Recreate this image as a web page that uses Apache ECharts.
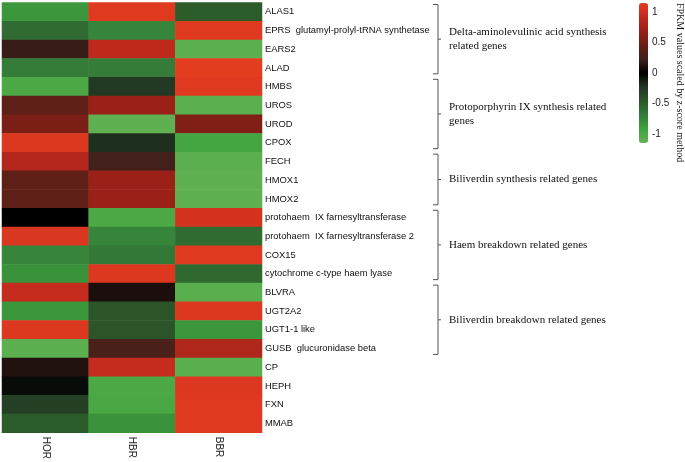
<!DOCTYPE html>
<html><head><meta charset="utf-8">
<script src="https://cdn.jsdelivr.net/npm/echarts@6/dist/echarts.min.js"></script>
<style>html,body{margin:0;padding:0;background:#fff}#c{width:685px;height:462px}</style>
</head><body><div id="c"></div>
<script>
const samples = ['HOR', 'HBR', 'BBR'];
const genes = ['ALAS1', 'EPRS  glutamyl-prolyl-tRNA synthetase', 'EARS2', 'ALAD', 'HMBS', 'UROS', 'UROD', 'CPOX',
  'FECH', 'HMOX1', 'HMOX2', 'protohaem  IX farnesyltransferase', 'protohaem  IX farnesyltransferase 2', 'COX15',
  'cytochrome c-type haem lyase', 'BLVRA', 'UGT2A2', 'UGT1-1 like', 'GUSB  glucuronidase beta', 'CP', 'HEPH', 'FXN', 'MMAB'];
const hor = [-0.85, -0.6, 0.2, -0.7, -1.0, 0.4, 0.55, 1.1, 0.85, 0.4, 0.4, 0.0, 1.08, -0.75, -0.82, 0.95, -0.85, 1.1, -1.1, 0.12, -0.05, -0.3, -0.5];
const hbr = [1.12, -0.75, 0.9, -0.7, -0.25, 0.7, -1.12, -0.2, 0.25, 0.7, 0.7, -1.0, -0.75, -0.68, 1.1, 0.1, -0.45, -0.45, 0.28, 0.95, -1.0, -0.98, -0.82];
const bbr = [-0.5, 1.12, -1.1, 1.15, 1.12, -1.1, 0.57, -0.95, -1.1, -1.12, -1.12, 1.05, -0.6, 1.12, -0.58, -1.08, 1.1, -0.85, 0.82, -1.08, 1.1, 1.12, 1.12];
const groupNames = ['Delta-aminolevulinic acid synthesis\nrelated genes', 'Protoporphyrin IX synthesis related\ngenes',
  'Biliverdin synthesis related genes', 'Haem breakdown related genes', 'Biliverdin breakdown related genes'];
const groupStart = [0, 4, 8, 11, 15];
const groupEnd = [3, 7, 10, 14, 18];
const colorTicks = [-1, -0.5, 0, 0.5, 1];
const zMin = -1.15, zMax = 1.15;
const legendTitle = 'FPKM values scaled by z-score method';

const data = [];
genes.forEach((g, i) => { [hor, hbr, bbr].forEach((arr, j) => data.push([j, i, arr[i]])); });

const chart = echarts.init(document.getElementById('c'));
chart.setOption({
  animation: false,
  backgroundColor: '#fff',
  grid: [
    { left: 2, right: 423, top: 2.5, bottom: 25 },
    { left: 639, top: 3, width: 9, height: 140 }
  ],
  xAxis: [
    { type: 'category', data: samples, gridIndex: 0, axisLine: { show: false }, axisTick: { show: false },
      axisLabel: { rotate: -90, margin: 4, fontSize: 10, color: '#222', fontFamily: 'Liberation Sans' } },
    { type: 'value', gridIndex: 1, show: false, min: 0, max: 1 }
  ],
  yAxis: [
    { type: 'category', data: genes, inverse: true, position: 'right', gridIndex: 0,
      axisLine: { show: false }, axisTick: { show: false }, splitLine: { show: false },
      axisLabel: { margin: 3, fontSize: 9.4, color: '#111', fontFamily: 'Liberation Sans' } },
    { type: 'value', gridIndex: 1, min: zMin, max: zMax, position: 'right',
      axisLine: { show: false }, axisTick: { show: false }, splitLine: { show: false },
      axisLabel: { customValues: colorTicks, margin: 4, fontSize: 10, color: '#222', fontFamily: 'Liberation Sans' } }
  ],
  visualMap: {
    type: 'continuous', min: zMin, max: zMax, calculable: false, orient: 'vertical',
    left: 639, top: 3, itemWidth: 9, itemHeight: 140, padding: 0, seriesIndex: 0,
    inRange: { color: ['#64b254', '#3fa43e', '#347a38', '#2b5628', '#233623', '#000000',
      '#40201c', '#681e14', '#982018', '#c02a1e', '#e43c1f'] }
  },
  series: [{
    type: 'heatmap', xAxisIndex: 0, yAxisIndex: 0, data: data,
    itemStyle: { borderWidth: 0 }, emphasis: { disabled: true }
  }]
});

const rowY = i => chart.convertToPixel({ yAxisIndex: 0 }, i);
const half = (rowY(1) - rowY(0)) / 2;
const graphics = [];
const bx = 438;
groupNames.forEach((name, k) => {
  const top = rowY(groupStart[k]) - half + 2;
  const bot = rowY(groupEnd[k]) + half - 3.5;
  const mid = (top + bot) / 2;
  graphics.push({ type: 'polyline', silent: true,
    shape: { points: [[bx - 5, top], [bx, top], [bx, bot], [bx - 5, bot]] },
    style: { stroke: '#555', lineWidth: 1, fill: null } });
  graphics.push({ type: 'line', silent: true,
    shape: { x1: bx, y1: mid, x2: bx + 3, y2: mid }, style: { stroke: '#555', lineWidth: 1 } });
  graphics.push({ type: 'text', silent: true, x: 449, y: mid,
    style: { text: name, font: '11px "Liberation Serif"', fill: '#111', textAlign: 'left',
      textVerticalAlign: 'middle', lineHeight: 14 } });
});
graphics.push({ type: 'text', silent: true, x: 680, y: 3, rotation: -Math.PI / 2,
  style: { text: legendTitle, font: '10px "Liberation Serif"', fill: '#111', textAlign: 'left', textVerticalAlign: 'middle' } });
chart.setOption({ graphic: graphics });
</script>
</body></html>
